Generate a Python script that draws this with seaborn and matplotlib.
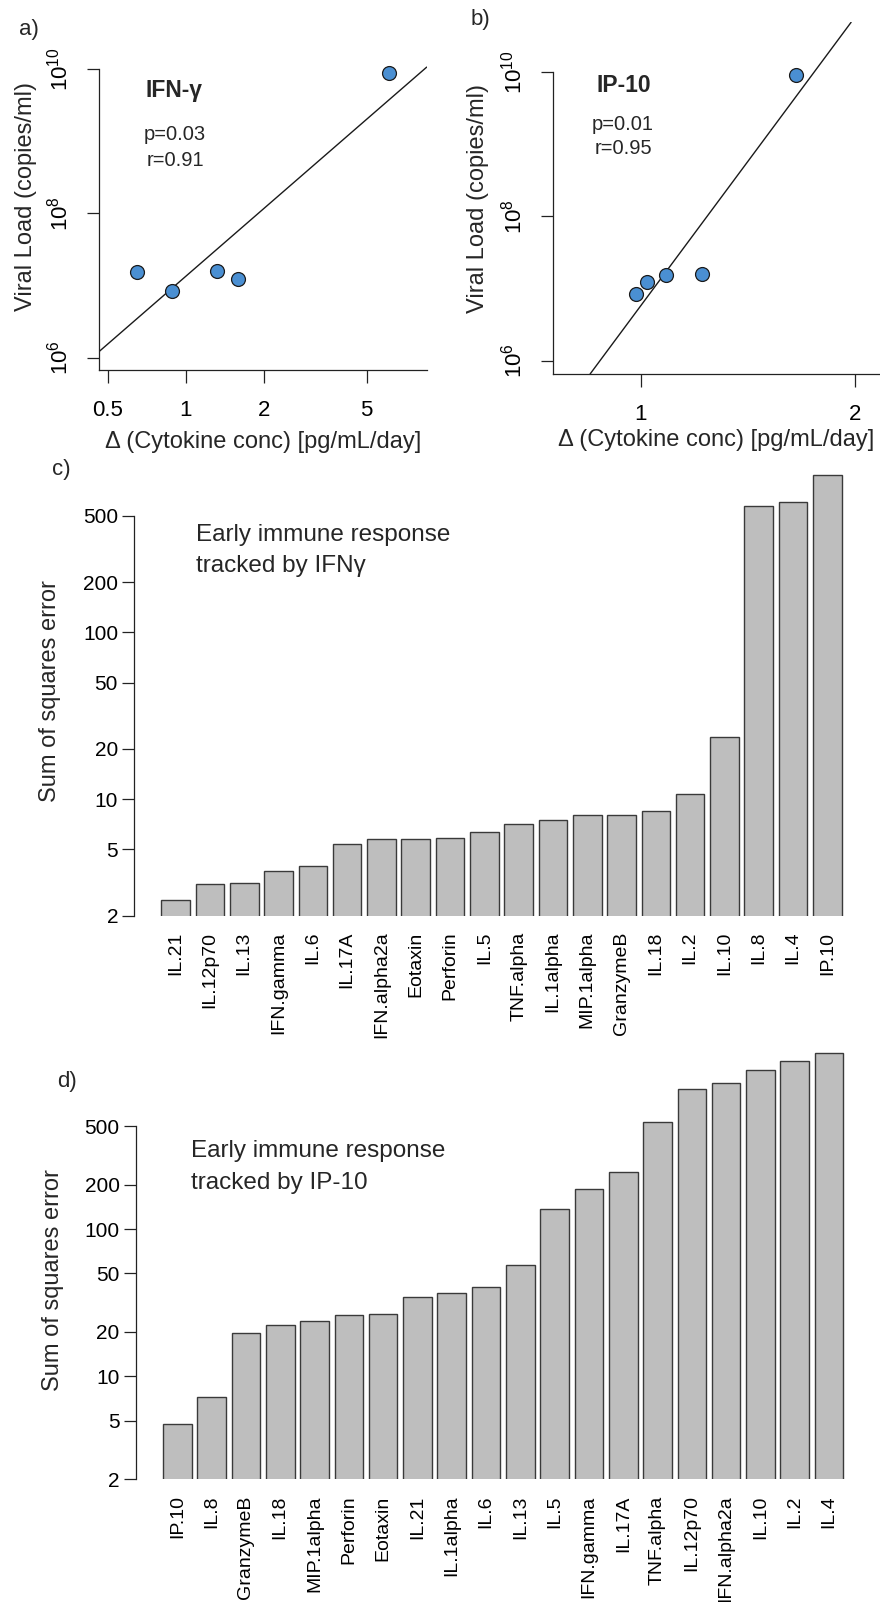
import numpy as np
import pandas as pd
import matplotlib
matplotlib.use("Agg")
import matplotlib.pyplot as plt
import seaborn as sns

# ---------------- data ----------------
viral_load = [8.45e6, 1.235e7, 1.555e7, 1.58e7, 8.9e9]          # copies/ml
ifng_delta = [0.888, 1.597, 0.65, 1.325, 6.1]                    # pg/mL/day
ip10_delta = [0.986, 1.02, 1.086, 1.22, 1.654]                   # pg/mL/day
stats_a = ["p=0.03", "r=0.91"]
stats_b = ["p=0.01", "r=0.95"]
xticks_a = [0.5, 1, 2, 5]
xticks_b = [1, 2]
yticks_vl = [1e6, 1e8, 1e10]
yticklabels_vl = [r"$\mathregular{10^{6}}$", r"$\mathregular{10^{8}}$", r"$\mathregular{10^{10}}$"]

cyt_c = ["IL.21", "IL.12p70", "IL.13", "IFN.gamma", "IL.6", "IL.17A", "IFN.alpha2a",
         "Eotaxin", "Perforin", "IL.5", "TNF.alpha", "IL.1alpha", "MIP.1alpha",
         "GranzymeB", "IL.18", "IL.2", "IL.10", "IL.8", "IL.4", "IP.10"]
sse_c = [2.47, 3.10, 3.15, 3.72, 3.97, 5.40, 5.74, 5.79, 5.82, 6.32, 7.06, 7.53,
         8.0, 8.0, 8.48, 10.7, 23.7, 574, 604, 877]

cyt_d = ["IP.10", "IL.8", "GranzymeB", "IL.18", "MIP.1alpha", "Perforin", "Eotaxin",
         "IL.21", "IL.1alpha", "IL.6", "IL.13", "IL.5", "IFN.gamma", "IL.17A",
         "TNF.alpha", "IL.12p70", "IFN.alpha2a", "IL.10", "IL.2", "IL.4"]
sse_d = [4.75, 7.21, 19.8, 22.4, 23.9, 26.2, 26.4, 34.6, 36.6, 40.6, 56.7, 137,
         186, 243, 533, 889, 976, 1208, 1383, 1567]
bar_yticks = [2, 5, 10, 20, 50, 100, 200, 500]

# ---------------- style ----------------
sns.set_theme(style="ticks")
plt.rcParams["font.family"] = ["Liberation Sans", "DejaVu Sans"]
plt.rcParams["mathtext.fontset"] = "custom"
plt.rcParams["mathtext.rm"] = "Liberation Sans"
plt.rcParams["axes.edgecolor"] = "#222222"
plt.rcParams["axes.linewidth"] = 0.9
plt.rcParams["xtick.color"] = "#222222"
plt.rcParams["ytick.color"] = "#222222"
plt.rcParams["xtick.labelcolor"] = "black"
plt.rcParams["ytick.labelcolor"] = "black"

W, H = 880, 1602
fig = plt.figure(figsize=(W / 100, H / 100), dpi=100)


def px_axes(left, top, right, bottom):
    return fig.add_axes([left / W, 1 - bottom / H, (right - left) / W, (bottom - top) / H])


def ftext(x, y, s, **kw):
    fig.text(x / W, 1 - y / H, s, **kw)


POINT_COLOR = "#4A8FD2"
BAR_COLOR = "#bebebe"


def scatter_panel(ax, xs, xlim, ylim, xticks):
    df = pd.DataFrame({"x": xs, "y": viral_load})
    sns.scatterplot(data=df, x="x", y="y", ax=ax, s=100, color=POINT_COLOR,
                    edgecolor="#1a1a1a", linewidth=0.9, zorder=3)
    ax.set_xscale("log")
    ax.set_yscale("log")
    slope, intercept = np.polyfit(np.log10(df["x"]), np.log10(df["y"]), 1)
    x0, x1 = 1.0, 2.0
    ax.axline((x0, 10 ** (intercept + slope * np.log10(x0))),
              (x1, 10 ** (intercept + slope * np.log10(x1))),
              color="#1a1a1a", lw=1.0, zorder=2)
    ax.set_xlim(*xlim)
    ax.set_ylim(*ylim)
    ax.set_xticks(xticks)
    ax.set_xticklabels([f"{t:g}" for t in xticks])
    ax.set_yticks(yticks_vl)
    ax.set_yticklabels(yticklabels_vl, rotation=90, va="center")
    ax.xaxis.set_minor_locator(matplotlib.ticker.NullLocator())
    ax.yaxis.set_minor_locator(matplotlib.ticker.NullLocator())
    ax.tick_params(axis="x", length=9.5, width=0.9, pad=12, labelsize=16)
    ax.tick_params(axis="y", length=9, width=0.9, pad=10, labelsize=16)
    for s in ["top", "right"]:
        ax.spines[s].set_visible(False)
    ax.spines["left"].set_bounds(ylim[0], 1e10)
    ax.set_xlabel("Δ (Cytokine conc) [pg/mL/day]", fontsize=17)
    ax.set_ylabel("Viral Load (copies/ml)", fontsize=17)


# ---- panel a ----
axa = px_axes(99.3, 22.3, 426.7, 370)
scatter_panel(axa, ifng_delta, (0.464, 8.52), (10 ** 5.83, 10 ** 10.65), xticks_a)
axa.xaxis.set_label_coords(0.5, -0.175)
axa.yaxis.set_label_coords(-0.19, 0.5)
ftext(174, 90, "IFN-γ", fontsize=16.5, fontweight="bold", ha="center", va="center")
ftext(175, 135, stats_a[0], fontsize=14.5, ha="center", va="center")
ftext(175, 161, stats_a[1], fontsize=14.5, ha="center", va="center")
ftext(19, 29, "a)", fontsize=16, ha="left", va="center")

# ---- panel b ----
axb = px_axes(553.3, 22.3, 879, 374)
scatter_panel(axb, ip10_delta, (0.754, 2.16), (10 ** 5.816, 10 ** 10.684), xticks_b)
axb.xaxis.set_label_coords(0.5, -0.157)
axb.yaxis.set_label_coords(-0.197, 0.5)
ftext(624, 86, "IP-10", fontsize=16.5, fontweight="bold", ha="center", va="center")
ftext(623, 124, stats_b[0], fontsize=14.5, ha="center", va="center")
ftext(623, 149, stats_b[1], fontsize=14.5, ha="center", va="center")
ftext(471, 19, "b)", fontsize=16, ha="left", va="center")


def bar_panel(ax, cats, vals, ytop):
    df = pd.DataFrame({"cyt": cats, "sse": vals})
    sns.barplot(data=df, x="cyt", y="sse", order=cats, ax=ax, color=BAR_COLOR,
                saturation=1, width=0.833, edgecolor="#3a3a3a", linewidth=1.0)
    ax.set_yscale("log")
    ax.set_ylim(2, ytop)
    ax.set_xlim(-1.213, len(cats) - 1 + 1.213)
    ax.set_yticks(bar_yticks)
    ax.set_yticklabels([str(t) for t in bar_yticks])
    ax.yaxis.set_minor_locator(matplotlib.ticker.NullLocator())
    ax.tick_params(axis="y", length=9, width=0.9, pad=2.5, labelsize=15)
    ax.tick_params(axis="x", length=0, pad=11.5, labelsize=14, labelrotation=90)
    for lab in ax.get_xticklabels():
        lab.set_va("top")
        lab.set_ha("center")
    for s in ["top", "right", "bottom"]:
        ax.spines[s].set_visible(False)
    ax.spines["left"].set_bounds(2, 500)
    ax.set_xlabel("")
    ax.set_ylabel("Sum of squares error", fontsize=17)


# ---- panel c ----
axc = px_axes(134, 465, 869, 915.7)
bar_panel(axc, cyt_c, sse_c, 1007)
axc.yaxis.set_label_coords(-0.099, 0.499)
ftext(196, 535, "Early immune response", fontsize=17.5, ha="left", va="center")
ftext(196, 566, "tracked by IFNγ", fontsize=17.5, ha="left", va="center")
ftext(52, 469, "c)", fontsize=16, ha="left", va="center")

# ---- panel d ----
axd = px_axes(135.7, 1045, 870.7, 1479.3)
bar_panel(axd, cyt_d, sse_d, 1775)
axd.yaxis.set_label_coords(-0.098, 0.459)
ftext(191, 1151, "Early immune response", fontsize=17.5, ha="left", va="center")
ftext(191, 1183, "tracked by IP-10", fontsize=17.5, ha="left", va="center")
ftext(57, 1082, "d)", fontsize=16, ha="left", va="center")

fig.savefig("out.png", dpi=100)
